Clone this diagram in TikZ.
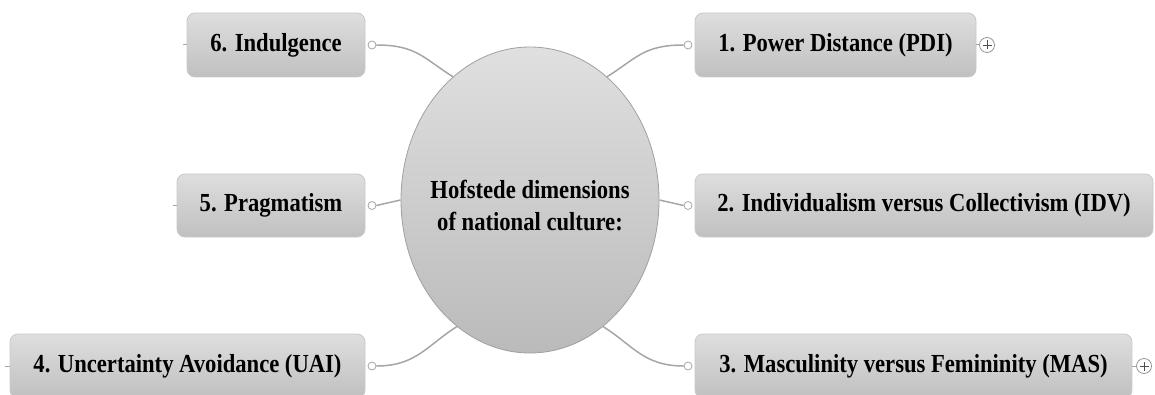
\documentclass[tikz,border=0pt]{standalone}
\usepackage{fontspec}
\setmainfont{Liberation Serif}[FakeStretch=0.87]
\usetikzlibrary{shapes.geometric}
\definecolor{boxtop}{HTML}{DEDEDE}
\definecolor{boxbot}{HTML}{C0C0C0}
\definecolor{boxline}{HTML}{C8C8C8}
\definecolor{hubline}{HTML}{A0A0A0}
\definecolor{connline}{HTML}{A6A6A6}
\tikzset{
  topicbox/.style={rectangle, rounded corners=8pt, draw=boxline, line width=0.8pt,
    top color=boxtop, bottom color=boxbot, inner sep=0pt,
    font=\bfseries\fontsize{26}{32}\selectfont, text=black},
  hubnode/.style={ellipse, draw=hubline, line width=0.8pt, top color=boxtop!95!white,
    bottom color=boxbot!97!black, inner sep=0pt, minimum width=258pt, minimum height=306pt},
  hubtext/.style={align=center, inner sep=0pt, font=\bfseries\fontsize{26}{32}\selectfont},
  conn/.style={draw=connline, line width=1.5pt},
  knob/.style={circle, draw=connline, fill=white, line width=0.8pt, minimum size=8pt, inner sep=0pt},
  plusknob/.style={circle, draw=connline!90!black, fill=white, line width=0.8pt, minimum size=15pt, inner sep=0pt},
}
\begin{document}
\begin{tikzpicture}[x=1pt,y=1pt]
\useasboundingbox (0,0) rectangle (1155,394);
\clip (0,0) rectangle (1155,394);
% hub
\node[hubnode] (hub) at (530,194) {};
\node[hubtext] (hubtxt) at ([yshift=-6pt]hub.center) {Hofstede dimensions\\of national culture:};
% boxes
\node[topicbox, minimum width=178pt, minimum height=64pt] (b6) at (276,349) {6. Indulgence};
\node[topicbox, minimum width=188pt, minimum height=63pt] (b5) at (271,188.5) {5. Pragmatism};
\node[topicbox, minimum width=355pt, minimum height=64pt] (b4) at (187.5,28) {4. Uncertainty Avoidance (UAI)};
\node[topicbox, minimum width=281pt, minimum height=64pt] (b1) at (835.5,349) {1. Power Distance (PDI)};
\node[topicbox, minimum width=458pt, minimum height=63pt] (b2) at (924,188.5) {2. Individualism versus Collectivism (IDV)};
\node[topicbox, minimum width=437pt, minimum height=64pt] (b3) at (913.5,28) {3. Masculinity versus Femininity (MAS)};
% stubs
\coordinate (s6) at (183,349);
\coordinate (s5) at (173,188.5);
\coordinate (s4) at (5,28);
\draw[conn, line width=1pt] (s6) -- (b6.west);
\draw[conn, line width=1pt] (s5) -- (b5.west);
\draw[conn, line width=1pt] (s4) -- (b4.west);
% knobs
\node[knob] (c6) at (372,349) {};
\node[knob] (c5) at (372,188.5) {};
\node[knob] (c4) at (372,28) {};
\node[knob] (c1) at (688,349) {};
\node[knob] (c2) at (688,188.5) {};
\node[knob] (c3) at (688,28) {};
% connectors
\draw[conn] (hub.122) .. controls +(148:35) and +(0:40) .. (c6.east);
\draw[conn] (hub.58) .. controls +(32:35) and +(180:40) .. (c1.west);
\draw[conn] (hub.240) .. controls +(212:35) and +(0:40) .. (c4.east);
\draw[conn] (hub.300) .. controls +(328:35) and +(180:40) .. (c3.west);
\draw[conn] (hub.west) -- (c5.east);
\draw[conn] (hub.east) -- (c2.west);
% plus knobs
\node[plusknob] (p1) at (987,349) {};
\node[plusknob] (p3) at (1144,28) {};
\draw[conn, line width=1pt] (b1.east) -- (p1.west);
\draw[conn, line width=1pt] (b3.east) -- (p3.west);
\draw[black!70, line width=0.8pt] (p1.center) +(-4.5,0) -- +(4.5,0) (p1.center) +(0,-4.5) -- +(0,4.5);
\draw[black!70, line width=0.8pt] (p3.center) +(-4.5,0) -- +(4.5,0) (p3.center) +(0,-4.5) -- +(0,4.5);
\end{tikzpicture}
\end{document}
